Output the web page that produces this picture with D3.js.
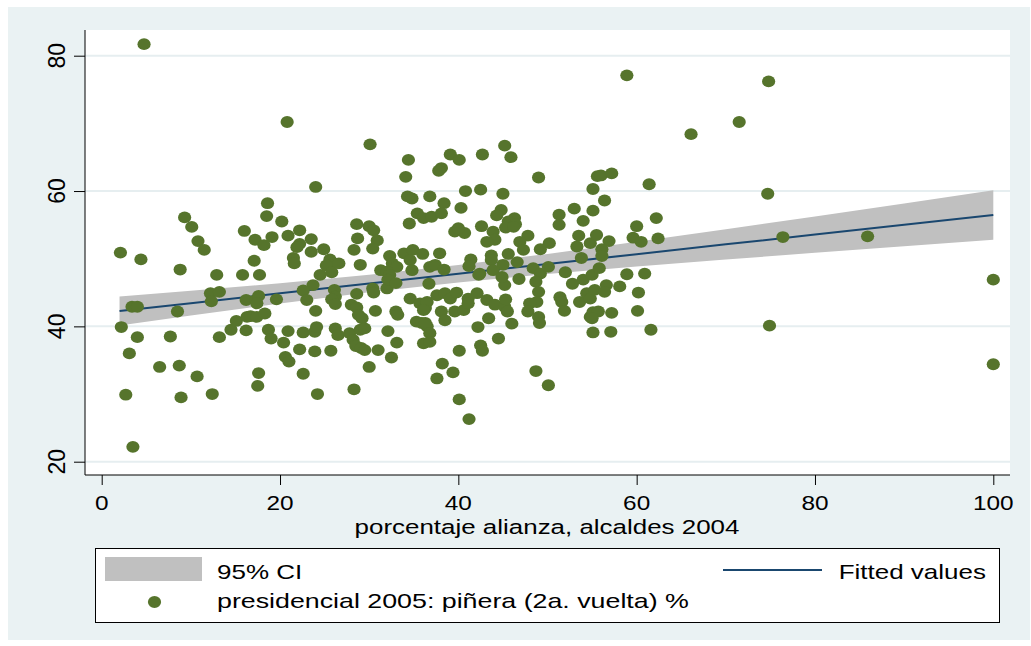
<!DOCTYPE html>
<html><head><meta charset="utf-8">
<script src="https://cdn.jsdelivr.net/npm/d3@7"></script>
<style>body{margin:0;background:#fff;}svg{display:block;}</style>
</head><body><div id="chart"></div>
<script>
const xTicks=[0,20,40,60,80,100];
const yTicks=[20,40,60,80];
const xTitle="porcentaje alianza, alcaldes 2004";
const legendCI="95% CI", legendFit="Fitted values", legendScatter="presidencial 2005: piñera (2a. vuelta) %";
const xVals=[4.75,2.1,4.4,8.8,12.9,15.8,17.7,3.4,4.0,8.5,12.2,13.2,12.3,16.2,17.3,17.6,2.2,4.0,7.7,3.1,6.5,8.7,10.7,2.7,8.9,12.4,3.5,13.2,14.5,15.1,16.2,16.3,16.7,17.4,17.6,17.5,10.8,11.5,17.1,9.3,10.1,16.0,17.2,
20.8,30.1,34.4,34.1,24.0,34.3,34.8,36.8,18.6,18.5,20.2,22.2,20.9,19.1,18.2,23.5,22.2,21.9,23.5,24.9,21.5,21.6,24.5,25.6,26.0,25.2,25.8,26.6,28.6,30.0,30.5,28.7,30.9,30.4,28.3,29.0,31.3,32.3,32.6,33.1,32.0,32.3,33.9,34.9,36.0,34.6,34.8,34.5,35.4,36.1,36.8,
23.7,22.6,23.0,17.4,19.6,18.3,24.0,26.1,26.2,25.8,26.2,28.6,30.4,30.5,32.0,32.1,33.0,34.6,35.7,36.3,28.0,28.6,28.8,29.2,30.7,33.0,33.2,35.3,35.9,36.5,18.7,19.0,20.9,22.6,23.9,24.1,26.2,26.5,27.8,28.2,28.5,29.1,29.5,29.0,29.5,20.4,22.2,23.9,25.7,20.6,21.0,31.0,32.1,33.1,32.5,30.0,22.6,24.2,28.3,36.1,
45.2,39.1,40.1,42.7,45.9,38.1,37.8,49.0,40.8,42.5,45.0,38.4,40.3,44.8,44.3,46.3,45.6,46.4,45.3,46.2,37.0,38.1,42.6,39.6,40.7,40.0,43.9,44.1,43.2,47.8,46.9,47.3,50.2,49.2,51.3,51.3,53.0,55.1,55.6,55.1,54.0,53.5,53.3,54.8,55.5,37.9,37.4,38.4,41.4,41.2,43.7,43.7,42.4,45.6,45.0,43.9,46.6,48.4,49.2,50.1,52.0,53.8,
42.3,45.2,44.9,46.8,48.7,49.0,48.8,48.0,47.8,49.0,49.1,52.8,54.0,55.0,51.4,51.6,51.9,53.6,54.4,54.8,55.3,54.8,55.1,55.1,36.7,36.5,37.6,38.5,39.1,39.8,41.1,42.1,43.2,44.1,45.2,45.5,45.3,36.1,38.1,38.5,39.6,40.6,41.1,43.4,42.2,46.0,36.3,36.8,36.8,40.1,42.5,42.7,44.5,38.2,37.6,39.4,40.1,41.2,48.7,50.1,
71.5,66.1,56.0,57.2,61.4,56.4,74.7,62.2,60.0,56.9,59.6,60.5,62.4,56.1,56.1,55.8,58.9,60.9,56.6,56.4,58.1,60.2,55.7,57.2,60.1,55.0,57.1,61.6,74.9,74.8,76.4,85.9,100,100,58.9];
const yVals=[81.7,50.9,49.9,48.4,47.6,47.6,47.6,42.9,42.9,42.2,44.9,45.1,43.7,43.9,43.9,44.5,39.9,38.4,38.5,36.0,34.0,34.2,32.6,29.9,29.5,30.0,22.2,38.4,39.5,40.8,39.4,41.4,41.5,41.4,33.1,31.2,52.6,51.3,49.7,56.1,54.7,54.1,52.8,
70.2,66.9,64.6,62.1,60.6,59.2,58.9,59.2,58.2,56.3,55.5,54.2,53.4,53.2,52.0,52.9,52.2,51.7,51.0,51.4,50.1,49.3,47.6,49.9,49.3,49.0,48.0,49.3,55.1,54.8,54.2,53.0,52.7,51.5,51.3,49.1,48.3,50.4,49.3,48.8,48.1,47.6,50.8,51.3,50.7,49.8,48.3,55.2,56.7,56.0,48.8,
46.1,45.3,43.9,43.4,44.0,41.9,42.3,45.4,44.4,44.0,43.3,44.8,45.6,45.0,45.6,46.9,46.4,44.1,43.4,42.7,43.2,42.8,41.7,41.2,42.3,42.2,41.7,40.7,40.5,40.0,39.5,38.2,39.3,39.1,39.2,39.9,39.7,38.7,39.0,38.0,37.1,36.8,36.5,39.5,39.7,37.6,36.6,36.3,36.4,35.5,34.8,36.5,39.3,37.6,35.4,34.0,33.0,30.0,30.7,37.5,
66.7,65.4,64.6,65.4,65.0,63.4,63.0,62.0,60.0,60.2,59.6,58.2,57.5,57.2,56.4,56.0,55.5,55.1,54.6,54.7,56.2,56.7,54.8,54.0,53.8,54.5,54.0,52.8,52.5,53.4,52.5,51.3,52.3,51.4,56.5,55.0,57.4,60.3,62.2,57.1,55.6,53.4,51.8,52.3,53.5,50.8,49.1,48.4,49.9,48.9,50.5,49.8,47.8,50.7,49.1,48.3,49.5,48.6,47.8,48.8,48.0,50.1,
47.6,46.1,47.3,47.0,46.6,45.1,43.6,43.4,42.2,41.4,40.5,46.3,46.9,47.6,44.3,43.6,42.3,43.6,44.9,44.1,45.4,41.4,42.1,39.1,46.3,43.6,44.6,44.9,44.1,45.0,44.1,44.9,43.9,43.2,42.9,42.2,44.0,42.4,42.2,40.9,42.2,42.4,43.4,41.2,39.9,40.4,40.5,39.0,37.7,36.4,37.2,36.4,38.2,34.5,32.3,33.2,29.2,26.3,33.4,31.3,
70.2,68.4,62.3,62.6,61.0,58.6,59.6,56.0,54.8,52.6,53.1,52.5,53.0,51.4,50.4,48.6,47.7,47.8,46.1,45.1,45.9,45.0,42.2,42.0,42.3,41.2,39.2,39.5,40.1,76.2,53.2,53.3,46.9,34.4,77.1];
const bandX=[2,10,20,30,40,50,60,70,80,90,100];
const fitY=[42.27,43.43,44.88,46.32,47.77,49.22,50.67,52.12,53.56,55.01,56.46];
const bandLo=[40.12,41.60,43.39,45.03,46.48,47.73,48.84,49.88,50.87,51.85,52.81];
const bandHi=[44.42,45.26,46.37,47.61,49.06,50.71,52.50,54.36,56.25,58.17,60.11];

const W=1031,H=646;
const FONT="'Liberation Sans', Arial, sans-serif";
const C={bg:"#EAF2F3",grid:"#E6EEF0",band:"#C0C0C0",fit:"#1A476F",dot:"#56742C",axis:"#000"};
const svg=d3.select("#chart").append("svg").attr("width",W).attr("height",H);
svg.append("rect").attr("x",8).attr("y",7).attr("width",1022).attr("height",633).attr("fill",C.bg);
const P={l:85,r:1010,t:30,b:475};
svg.append("rect").attr("x",P.l).attr("y",P.t).attr("width",P.r-P.l).attr("height",P.b-P.t).attr("fill","#fff");
const x=d3.scaleLinear().domain([0,100]).range([101.7,993.3]);
const y=d3.scaleLinear().domain([20,80]).range([461.7,55.7]);
// gridlines
svg.append("g").selectAll("line").data(yTicks).join("line")
 .attr("x1",P.l).attr("x2",P.r).attr("y1",d=>y(d)).attr("y2",d=>y(d))
 .attr("stroke",C.grid).attr("stroke-width",2);
// band
const bandData=bandX.map((d,i)=>({x:d,lo:bandLo[i],hi:bandHi[i],f:fitY[i]}));
svg.append("path").datum(bandData).attr("fill",C.band)
 .attr("d",d3.area().x(d=>x(d.x)).y0(d=>y(d.lo)).y1(d=>y(d.hi)));
svg.append("path").datum(bandData).attr("fill","none").attr("stroke",C.fit).attr("stroke-width",2)
 .attr("d",d3.line().x(d=>x(d.x)).y(d=>y(d.f)));
// points
svg.append("g").selectAll("ellipse").data(xVals.map((d,i)=>[d,yVals[i]])).join("ellipse")
 .attr("cx",d=>x(d[0])).attr("cy",d=>y(d[1])).attr("rx",6.6).attr("ry",5.9).attr("fill",C.dot);
// axes
const xAxis=d3.axisBottom(x).tickValues(xTicks).tickSize(10).tickFormat("");
const gx=svg.append("g").attr("transform",`translate(0,${P.b})`).call(xAxis);
gx.select(".domain").attr("d",`M${P.l},0H${P.r}`).attr("stroke",C.axis);
gx.selectAll(".tick line").attr("stroke",C.axis);
const yAxis=d3.axisLeft(y).tickValues(yTicks).tickSize(11).tickFormat("");
const gy=svg.append("g").attr("transform",`translate(${P.l},0)`).call(yAxis);
gy.select(".domain").attr("d",`M0,${P.t}V${P.b}`).attr("stroke",C.axis);
gy.selectAll(".tick line").attr("stroke",C.axis);
function txt(str,px,py,size,sx,anchor,rot){
  const g=svg.append("g").attr("transform",`translate(${px},${py}) scale(${sx},1)`+(rot?` rotate(${rot})`:""));
  return g.append("text").text(str).attr("font-family",FONT).attr("font-size",size).attr("text-anchor",anchor||"start").attr("fill","#000");
}
xTicks.forEach(t=>txt(String(t),x(t),510,19.5,1.25,"middle"));
yTicks.forEach(t=>txt(String(t),65,y(t),23,1.0,"middle",-90));
txt(xTitle,547,534,19.5,1.33,"middle");
// legend
svg.append("rect").attr("x",95.5).attr("y",548.5).attr("width",904).attr("height",74).attr("fill","#fff").attr("stroke","#000").attr("stroke-width",1);
svg.append("rect").attr("x",105).attr("y",557).attr("width",97).attr("height",24).attr("fill",C.band);
txt(legendCI,217,579,20,1.3,"start");
svg.append("line").attr("x1",723).attr("x2",822).attr("y1",570).attr("y2",570).attr("stroke",C.fit).attr("stroke-width",2);
txt(legendFit,986,579,20,1.3,"end");
svg.append("ellipse").attr("cx",154.5).attr("cy",602).attr("rx",6.6).attr("ry",5.9).attr("fill",C.dot);
txt(legendScatter,217,608,20,1.34,"start");
</script></body></html>
